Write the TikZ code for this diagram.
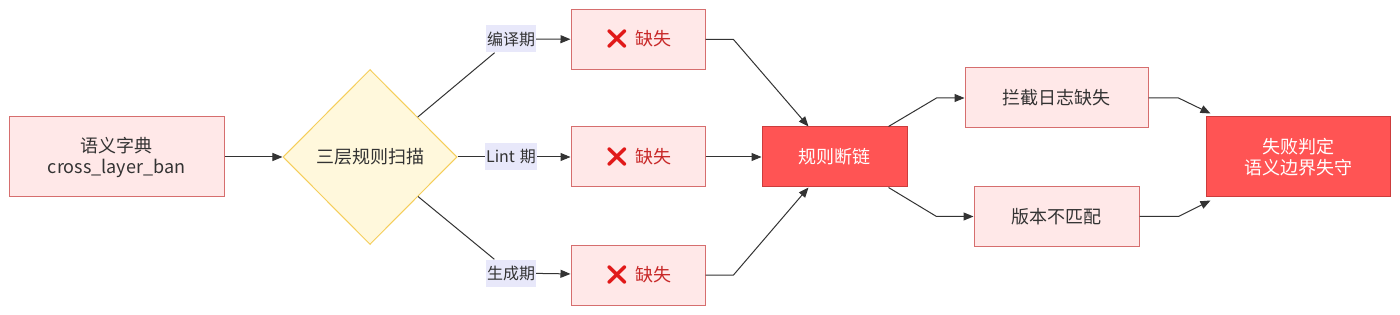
\documentclass[tikz,border=0pt]{standalone}
\usepackage{fontspec}
\setmainfont{Noto Sans CJK SC}
\newfontfamily\emojifont{Noto Emoji}
\usetikzlibrary{arrows.meta,shapes.geometric}

\definecolor{BoxPink}{RGB}{255,232,232}
\definecolor{BoxPinkLine}{RGB}{214,110,110}
\definecolor{ScanYellow}{RGB}{255,248,220}
\definecolor{ScanYellowLine}{RGB}{245,206,90}
\definecolor{AlertRed}{RGB}{255,84,84}
\definecolor{AlertRedLine}{RGB}{204,60,60}
\definecolor{LabelLavender}{RGB}{232,232,250}
\definecolor{MarkRed}{RGB}{225,25,25}
\definecolor{MissText}{RGB}{200,40,40}
\definecolor{InkGrey}{RGB}{51,51,51}

\newcommand{\missmark}{{\color{MarkRed}\emojifont\fontsize{19}{21}\selectfont ❌}\hspace{6pt}\textcolor{MissText}{缺失}}

\begin{document}
\begin{tikzpicture}[x=1pt, y=-1pt,
    softbox/.style={draw=BoxPinkLine, fill=BoxPink, line width=1pt, text=InkGrey,
        font=\fontsize{18}{21}\selectfont, align=center, minimum height=60pt},
    alertbox/.style={draw=AlertRedLine, fill=AlertRed, line width=1pt, text=white,
        font=\fontsize{18}{21}\selectfont, align=center, minimum height=60pt},
    scanshape/.style={diamond, draw=ScanYellowLine, fill=ScanYellow, line width=1pt, text=InkGrey,
        font=\fontsize{18}{21}\selectfont, minimum width=174pt, minimum height=175pt, inner sep=0pt},
    phaselabel/.style={fill=LabelLavender, text=InkGrey, font=\fontsize{16}{19}\selectfont,
        inner xsep=1pt, minimum height=27pt},
    link/.style={draw=InkGrey, line width=1pt},
    flow/.style={link, -{Triangle[length=10pt,width=8pt]}}]

    % page
    \useasboundingbox[fill=white] (0,0) rectangle (1400,315);

    % source and scan
    \node[softbox, minimum width=215pt, minimum height=80pt] (dict) at (116.5,157) {语义字典\\cross\_layer\_ban};
    \node[scanshape] (scan) at (370,157) {三层规则扫描};

    % phase labels on the branches
    \node[phaselabel] (compile) at (511,39) {编译期};
    \node[phaselabel] (lint) at (511,157) {Lint\hspace{5pt}期};
    \node[phaselabel] (gen) at (511,273) {生成期};

    % missing checks
    \node[softbox, minimum width=134pt] (missA) at (638,39.5) {\missmark};
    \node[softbox, minimum width=134pt] (missB) at (638,157) {\missmark};
    \node[softbox, minimum width=134pt] (missC) at (638,275) {\missmark};

    % broken chain and consequences
    \node[alertbox, minimum width=145pt] (chain) at (834.5,157) {规则断链};
    \node[softbox, minimum width=183pt] (nolog) at (1056.5,98) {拦截日志缺失};
    \node[softbox, minimum width=165pt] (version) at (1056.5,216.5) {版本不匹配};
    \node[alertbox, minimum width=184pt, minimum height=80pt] (verdict) at (1298,157) {失败判定\\语义边界失守};

    % connectors
    \draw[flow] (dict) -- (scan);
    \draw[link] (scan) -- (compile);
    \draw[link] (scan) -- (lint);
    \draw[link] (scan) -- (gen);
    \draw[flow] (compile) -- (missA);
    \draw[flow] (lint) -- (missB);
    \draw[flow] (gen) -- (missC);

    \draw[flow] (missA.east) -- ++(28,0) -- ([xshift=-26pt]chain.north);
    \draw[flow] (missB) -- (chain);
    \draw[flow] (missC.east) -- ++(28,0) -- ([xshift=-26pt]chain.south);

    \draw[flow] ([xshift=54pt]chain.north) -- ([xshift=-28pt]nolog.west) -- (nolog.west);
    \draw[flow] ([xshift=54pt]chain.south) -- ([xshift=-37pt]version.west) -- (version.west);

    \draw[flow] (nolog.east) -- ++(30,0) -- ([xshift=5pt,yshift=3pt]verdict.north west);
    \draw[flow] (version.east) -- ++(39,0) -- ([xshift=5pt,yshift=-3pt]verdict.south west);
\end{tikzpicture}
\end{document}
